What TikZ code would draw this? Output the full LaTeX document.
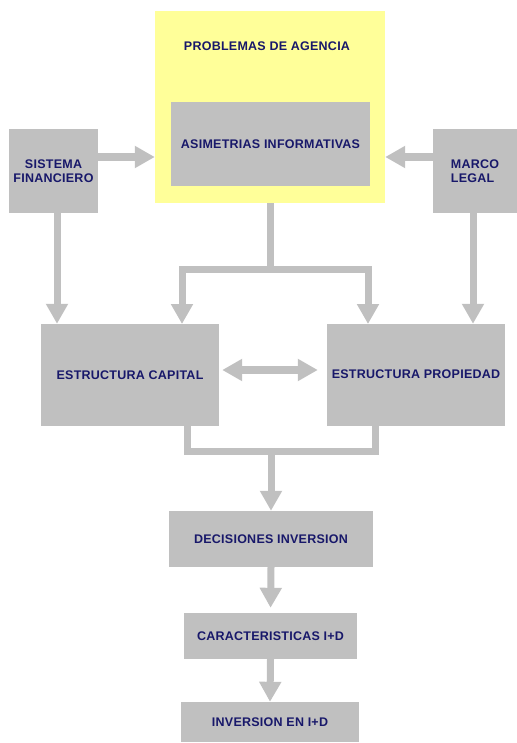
\documentclass[tikz,border=0pt]{standalone}
\usepackage{fontspec}
\setmainfont[LetterSpace=2]{Liberation Sans}
\usetikzlibrary{arrows.meta,positioning,calc}
\definecolor{boxgray}{HTML}{C0C0C0}
\definecolor{agyellow}{HTML}{FFFF99}
\definecolor{txtblue}{HTML}{18186A}

\begin{document}
\begin{tikzpicture}[x=1pt, y=-1pt,
  box/.style={fill=boxgray, inner sep=0pt, align=center, text=txtblue,
              font=\fontsize{12.5}{14}\selectfont\bfseries},
  lbl/.style={text=txtblue, font=\fontsize{12.5}{14}\selectfont\bfseries, inner sep=0pt},
  shaft/.style={boxgray, line width=7pt},
  arr/.style={shaft, -{Triangle[length=20pt, width=21pt]}},
  darr/.style={shaft, line width=8pt, {Triangle[length=20pt, width=21pt]}-{Triangle[length=20pt, width=21pt]}},
]
\useasboundingbox (0,0) rectangle (516,743);

% --- Top row ---
\node[fill=agyellow, minimum width=230pt, minimum height=192pt, inner sep=0pt] (prob) at (270,107) {};
\node[lbl] (probtxt) at (267,46) {PROBLEMAS DE AGENCIA};
\node[box, minimum width=199pt, minimum height=84pt] (asim) at (270.5,144) {ASIMETRIAS INFORMATIVAS};
\node[box, minimum width=89pt, minimum height=84pt] (sist) at (53.5,171) {SISTEMA\\FINANCIERO};
\node[box, minimum width=84pt, minimum height=84pt, align=left] (marco) at (475,171) {MARCO\\LEGAL};

% --- Structures ---
\node[box, minimum width=178pt, minimum height=102pt] (ecap) at (130,375) {ESTRUCTURA CAPITAL};
\node[box, minimum width=178pt, minimum height=102pt] (eprop) at (416,375) {\raisebox{2pt}{ESTRUCTURA PROPIEDAD}};

% --- Chain ---
\node[box, minimum width=204pt, minimum height=56pt] (dec) at (271,539) {DECISIONES INVERSION};
\node[box, minimum width=173pt, minimum height=46pt] (car) at (270.5,636) {CARACTERISTICAS I+D};
\node[box, minimum width=178pt, minimum height=40pt] (inv) at (270,722) {INVERSION EN I+D};

% --- Connectors ---
\coordinate (inL) at (182,324);
\coordinate (inR) at (368,324);
\coordinate (outL) at (187,426);
\coordinate (outR) at (375,426);
\coordinate (merge) at (271,451);

\draw[arr, line width=8pt] ([yshift=14pt]sist.east) -- ([yshift=14pt]sist.east -| prob.west);
\draw[arr, line width=8pt] ([yshift=14pt]marco.west) -- ([yshift=14pt]marco.west -| prob.east);
\draw[arr] ([xshift=3.5pt]sist.south) -- ([xshift=3.5pt]sist.south |- ecap.north);
\draw[arr] ([xshift=-2pt]marco.south) -- ([xshift=-2pt]marco.south |- eprop.north);
\draw[arr] (prob.south) -- ++(0,66) -| (inL);
\draw[arr] (prob.south) -- ++(0,66) -| (inR);
\draw[darr, shorten <=3pt, shorten >=9pt] ([yshift=5pt]ecap.east) -- ([yshift=5pt]eprop.west);
\draw[shaft] (outL) |- (merge) -| (outR);
\draw[arr] (merge) -- (dec.north);
\draw[arr, shorten >=5pt] (dec.south) -- (car.north);
\draw[arr] (car.south) -- (inv.north);
\end{tikzpicture}
\end{document}
